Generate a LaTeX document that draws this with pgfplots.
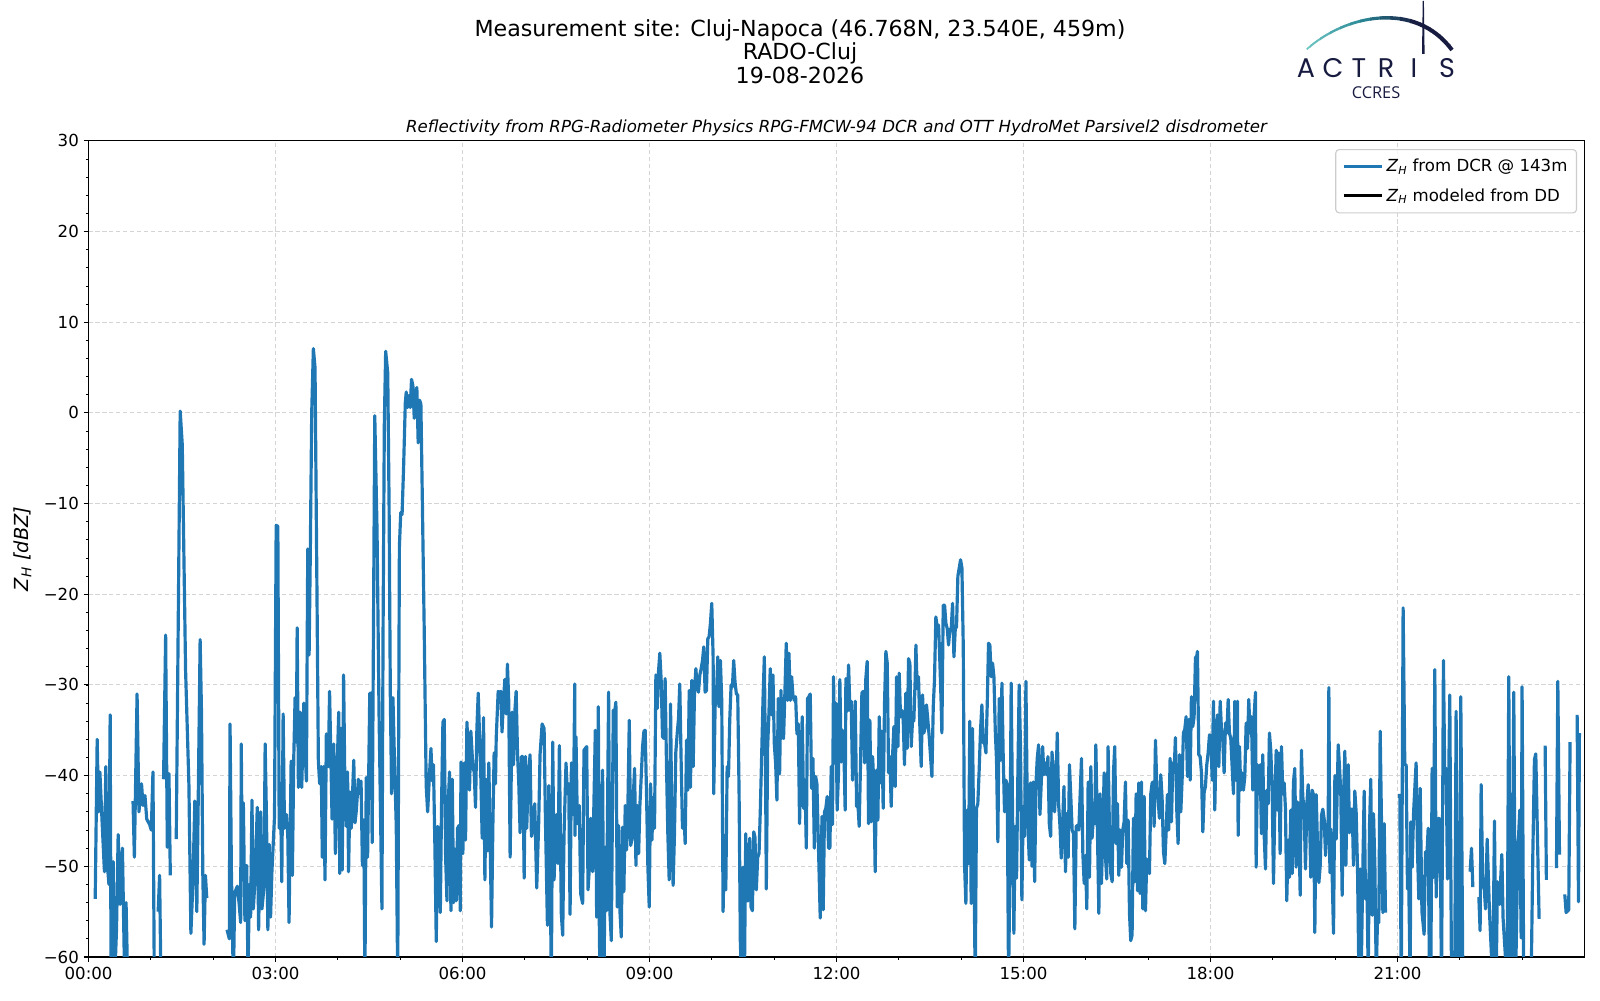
\documentclass[border=0pt]{standalone}
\usepackage{pgfplots}
\pgfplotsset{compat=1.18}
\usepackage{fontspec}
\setmainfont{DejaVu Sans}
\newfontfamily\poppins{Poppins}
\newfontfamily\opensans{Open Sans}
\definecolor{mplblue}{HTML}{1F77B4}
\definecolor{navy}{HTML}{181B40}
\definecolor{tealL}{HTML}{72C8C3}
\definecolor{tealM}{HTML}{2A8A98}
\newcommand{\ZH}{\textit{Z}\textsubscript{\textit{H}}}
\begin{document}
\begin{tikzpicture}
\path[use as bounding box] (0,0) rectangle (1156.3pt,722.7pt);
\begin{axis}[
  at={(64.0pt,31.1pt)}, anchor=south west, scale only axis,
  width=1081.1pt, height=589.8pt,
  xmin=0, xmax=1440, ymin=-60, ymax=30,
  xtick={0,180,...,1260},
  xticklabels={00:00,03:00,06:00,09:00,12:00,15:00,18:00,21:00},
  minor xtick={60,120,...,1380},
  ytick={-60,-50,...,30},
  yticklabels={−60,−50,−40,−30,−20,−10,0,10,20,30},
  minor ytick={-58,-56,...,28},
  xtick pos=left, ytick pos=left,
  tick align=outside, major tick length=3.5pt, minor tick length=2pt,
  tick style={black, line width=0.8pt}, minor tick style={line width=0.6pt},
  grid=major,
  major grid style={dash pattern=on 3pt off 2pt, line width=0.8pt, black!17},
  axis line style={line width=0.8pt},
  tick label style={font=\fontsize{12}{14.4}\selectfont},
  unbounded coords=jump,
  legend cell align=left,
  legend image code/.code={\draw[#1] (0pt,0pt) -- (28pt,0pt);},
  legend style={at={(1,1)}, anchor=north east, xshift=-5.4pt, yshift=-5.9pt,
    draw=black!20, line width=0.8pt, rounded corners=2.5pt, fill=white,
    fill opacity=0.8, text opacity=1, draw opacity=1,
    font=\fontsize{12}{14.4}\selectfont, inner xsep=4.5pt, inner ysep=5pt, row sep=6.5pt},
]
\addplot[mplblue, line width=2.3pt, line join=round, mark=none] coordinates {
(6.4,-53.6)(8.3,-36.0)(9.6,-44.0)(10.9,-39.6)(13,-45)(15.3,-50.6)(16.6,-39.0)(17.9,-49.5)(19.6,-52)(20.8,-33.3)(21.7,-63)(23.7,-49.5)(25.0,-63)(26.9,-57.0)(28.5,-46.5)(30.4,-54.2)(32.6,-48.0)(34.8,-63)(36.1,-54.0)(37.7,-63)(38.5,nan)
(42.8,-42.8)(44.1,-49.0)(46.7,-31.0)(48.5,-44)(51.0,-40.9)(52.4,-43.3)(54.3,-42.2)(56.0,-44.8)(58.8,-45.4)(60.4,-46)(62.0,-39.6)(63.3,-63)(64,nan)
(67.0,-55.0)(68.4,-51.0)(69.7,-63)(70.5,nan)
(72.2,-40.4)(74.2,-24.5)(75.8,-47.9)(77.4,-39.8)(78.7,-51.0)(80,nan)
(84.4,-47.0)(88.2,0.2)(90.2,-3.5)(93.4,-28.4)(96.6,-41.0)(98.5,-57.4)(100.4,-52.0)(102.3,-42.8)(104.2,-55.0)(105.5,-43.3)(107.4,-25.0)(108.7,-33.0)(110.0,-51.0)(111.2,-58.6)(112.5,-51.0)(113.8,-53.5)(120,nan)
(133.3,-57.0)(135.5,-58.0)(136.2,-34.3)(137.5,-50.6)(139.4,-63)(140.7,-52.9)(143.2,-52.2)(145,-54.2)(146.4,-56.2)(147.0,-36.5)(148,-51.5)(149.0,-43.0)(150.5,-56.0)(152.2,-49.9)(153.5,-62)(154.8,-52)(156,-55.6)(157.3,-42.7)(158.6,-54.7)(160.5,-51.0)(162.4,-43.5)(163.7,-57.0)(165.6,-44.0)(166.9,-54.7)(168.8,-52.4)(170.0,-36.5)(171.3,-45.0)(172.6,-57.0)(173.9,-47.6)(175.2,-55.6)(176.5,-50.6)(179.0,-44.5)(180.6,-12.4)(182.2,-12.5)(183.5,-45.8)(184.8,-42.4)(186.0,-51.7)(187.3,-33.2)(188.6,-45.8)(190.5,-44.3)(191.8,-46.7)(193.0,-56.2)(195.0,-38.4)(196.2,-51.0)(197.5,-38.2)(198.8,-31.4)(200.0,-36.3)(200.8,-23.7)(202.0,-41.3)(203.6,-33.0)(205.2,-41.3)(207.2,-32.0)(208.4,-37.0)(209.7,-40.6)(211.0,-15.0)(212.3,-26.7)(213.5,-15.0)(214.8,0)(216.4,7.1)(218.0,5.0)(220.0,-21.6)(221.2,-38.4)(222.5,-40.9)(224.0,-39.0)(225.0,-49.0)(226.3,-39.0)(227.6,-51.5)(228.9,-35.4)(230.8,-39.0)(232.0,-30.7)
(234.4,-44.8)(236.0,-36.5)(237.6,-48.6)(239.2,-39.6)(240.8,-33.0)(241.8,-50.8)(243,-34.8)(244.2,-50.4)(245.5,-28.9)(246.8,-41.8)(248.1,-45.6)(249.3,-39.6)(250.3,-50.6)(251.6,-41.8)(252.9,-45.8)(255.3,-38.3)(256.5,-45.2)(257.8,-43.8)(259.7,-40.4)(261,-42.0)(262.3,-40.6)(263.6,-49.9)(264.9,-44.9)(266.0,-63)(267.3,-40.2)(268.6,-49.0)(270.7,-30.9)(271.9,-30.9)(273.0,-47.4)(275.5,-0.3)(277.7,-13.0)(279.6,-33.0)(282.4,-54.7)(283.5,-23.9)(284.7,-1.3)(286.0,6.8)(288.0,4.4)(289.3,-10.3)(290.5,-31.4)(291.7,-42.0)(293.0,-31.4)(294.3,-37.5)(296.2,-45.6)(297.6,-63)(299.2,-14.8)(300.5,-11.0)(301.8,-11.2)(303.3,-5.8)(304.9,1.1)(305.8,2.3)(307.1,0.6)(308.4,1.9)(309.6,0.6)(310.9,3.7)(312.2,3.0)(313.5,-0.6)(314.7,2.1)(316.0,2.8)(317.3,-3.3)(318.6,1.4)(319.9,1.0)(321.1,-8.1)(323.1,-23.9)(325.0,-41.1)(326.4,-44.0)(328.3,-39.6)(329.6,-37.0)(330.8,-40.6)(332.0,-38.8)(333.4,-47.9)(334.7,-58.3)(336,-45.6)(337.3,-46.2)(338.6,-55.1)(339.8,-43.1)(341.1,-34.1)(342.4,-33.8)(343.7,-49.0)(345,-53.8)(346.2,-43.1)(347.5,-39.6)(348.8,-54.9)(350.1,-40.4)(351.4,-54.0)(352.7,-48.1)(354,-53.8)(355.2,-45.8)(356.5,-45.5)(357.8,-54.9)(358.5,-38.5)(360.3,-48.6)(361.6,-38.6)(362.9,-47.1)(364.2,-34.1)(365.5,-37.5)(366.7,-41.6)(368,-35.1)(369.9,-39.0)(371.2,-39.6)(372.5,-43.5)(373.8,-34.8)(375.1,-30.9)(376.4,-35.7)(377.6,-40.2)(378.9,-46.9)(380.2,-33.6)(381.5,-51.5)(382.7,-40.4)(384,-48.3)(385.3,-38.6)(386.6,-47.5)(387.9,-56.7)(389.2,-45.4)(390.4,-37.5)(391.7,-40.9)(392.4,-35.9)(394.3,-30.7)(395.6,-30.9)(396.8,-30.7)(398.0,-35.2)(399.4,-31.7)(400.7,-29.4)(402.0,-33.2)(403.2,-27.7)(404.5,-31.9)(405.8,-49.0)(407.7,-33.0)(409.1,-38.8)(410.3,-33.0)(411.6,-30.7)(412.9,-37.5)(414.2,-41.1)(415.4,-46.3)(416.7,-37.9)(418,-37.9)(419.3,-51.3)(420.6,-37.9)(421.8,-45.8)(423.1,-40.4)(425,-37.7)(426.3,-46.7)(428.2,-45.6)(429.5,-43.1)(431.4,-52.4)(433.3,-45.2)(434.6,-37.7)(436.6,-34.3)(438.5,-34.8)(439.8,-44.9)(441.7,-56.5)(443,-41.1)(444.2,-49.2)(445.5,-63)(446.8,-36.3)(448.1,-51.5)(449.4,-47.1)(450.6,-44.3)(451.9,-49.7)(453.2,-36.7)(455.1,-55.3)(456.4,-57.6)(457.7,-46.5)(459.6,-38.6)(460.9,-42.0)(462.2,-40.9)(463.5,-55.3)(464.8,-38.6)(466.7,-44.3)(468.0,-29.9)
(468.3,-46.6)(469.2,-35.7)(470.5,-45.3)(472.4,-43.3)(473.7,-53)(475.6,-54.1)(476.9,-37.2)(479.5,-36.8)(480.8,-52.6)(482,-50.3)(483.3,-44.7)(485.2,-50.6)(487.8,-35)(489.1,-55.6)(490.7,-32.4)(491.6,-55.8)(492.3,-63)(493.5,-47.9)(494.8,-39.4)(496.1,-63)(497.4,-47.9)(498.7,-54.9)(500.6,-30.8)(501.9,-55.2)(503.2,-58.2)(505.1,-32.8)(506.4,-33)(507.6,-31.9)(508.9,-54.5)(510.2,-45.5)(511.5,-54.9)(512.8,-57.8)(514,-45.7)(515.3,-52.8)(516.6,-43.3)(517.9,-48.2)(519.2,-43.1)(520.5,-33.9)(521.8,-47.7)(523,-47.1)(524.3,-42.4)(525.6,-39.2)(526.9,-49.9)(528.2,-43.3)(529.5,-48.6)(530.7,-43.3)(532,-40.1)(533.3,-36.8)(534.6,-35.1)(535.8,-35)(537.1,-42)(538.4,-50.1)(539.7,-54.5)(541,-40.9)(542.3,-47.1)(543.5,-42.4)(544.8,-45.8)(546.1,-28.9)(547.4,-32.6)(548.7,-28.4)(549.9,-26.5)(551.2,-29.5)(552.5,-35.7)(553.8,-35.9)(555,-29.3)(556.3,-38.7)(557.6,-46.4)(558.9,-51.5)(560.2,-32.1)(561.5,-45.7)(562.7,-52.1)(564,-46.4)(565.3,-37.4)(566.6,-35.4)(567.9,-33.7)(569.1,-29.9)(570.4,-38.3)(571.7,-45.8)(573,-43.8)(574.3,-47.5)(575.6,-36.1)(576.9,-41.6)(578.2,-30.6)(579.4,-41.3)(580.7,-29.5)(582,-39)(583.3,-30.6)(584.6,-28.2)(585.8,-30.2)(587.1,-30.8)(588.4,-28.9)(589.7,-28.2)(591,-27.3)(592.2,-25.8)(593.5,-30.8)(594.8,-30.6)(596.1,-24.9)(597.3,-24.7)(598.6,-23.2)(599.9,-21)(601.2,-26.9)(601.8,-42)(603.1,-32.4)(604.4,-31.3)(605.7,-26.9)(606.9,-32.4)(608.2,-27.3)(609.5,-31.7)(610.8,-55)(612.1,-46.6)(613.4,-52.6)(614.7,-39)(616,-40.1)(617.2,-33.9)(618.5,-30)(619.8,-30.2)(621,-27.3)(622.3,-29.7)(623.6,-31)(624.9,-31.1)(626.2,-42)(627.4,-58.3)(628.7,-63)(630,-50.1)(631.3,-63)(632.6,-46.4)(633.8,-53.8)(635.1,-53.8)(636.4,-46.9)(637.7,-54.5)(639,-54.9)(640.3,-46.2)(641.5,-46.8)(642.8,-52.6)(644.1,-49)(645.4,-48.6)(646.7,-43.5)(647.9,-37.9)(649.2,-31.7)(650.5,-26.9)(651.8,-41.6)(652.4,-52.5)(653.7,-36.8)(654.9,-33.2)(656.2,-28.2)(657.5,-33.3)(658.8,-28.9)(660.1,-36.5)(661.4,-38.7)(662.6,-42.7)(663.9,-31.5)(665.2,-39.8)(666.5,-30.6)(667.8,-35.7)(669,-35.9)(670.3,-30.8)(671.6,-25.4)(672.9,-31.7)(674.2,-26.5)(675.5,-31.7)(676.8,-29.1)(678,-31.1)(679.3,-31.7)(680.6,-31.3)(681.9,-35.4)(683.2,-34.3)(684.4,-45.3)(685.7,-38.3)(687,-33.5)(688.3,-43.6)(689.6,-40.5)(690.9,-48)(692.1,-31.5)(693.4,-31.3)(694.7,-31)(696,-41.4)(697.3,-38.1)(698.6,-48)(699.9,-40.1)(701.1,-40.9)
(704.3,-55.7)(706,-44.5)(707.2,-54.8)(708.4,-44)(709.7,-43.6)(711,-42.3)(712.3,-48)(713.6,-48)(714.9,-39)(716.1,-45.4)(717.1,-29.1)(718.4,-38.6)(719.4,-32)(720.6,-43.8)(721.9,-39.7)(723.2,-29.4)(724.5,-38.5)(725.8,-35)(727,-36.8)(728.3,-43.8)(729,-29.3)(730.3,-32.9)(731.6,-27.8)(732.9,-32.8)(734.1,-31.8)(735.4,-40.5)(736.7,-35)(738,-31.8)(739.3,-43.4)(740.6,-43.1)(741.8,-45.6)(743.1,-38.6)(744.4,-30.9)(745.7,-30.7)(747,-38.6)(748.2,-29.3)(749.5,-27.4)(750.8,-45.3)(752.1,-33.9)(753.4,-45.1)(754.7,-37.9)(755.9,-40.8)(757.2,-50.6)(758.5,-39.4)(759.8,-44.9)(761.1,-33.5)(762.4,-40.8)(763.6,-35.1)(764.9,-43.6)(766.2,-32)(767.5,-26.3)(768.8,-27.6)(770.1,-39.7)(771.4,-37.9)(772.6,-43.4)(773.9,-37.9)(775.2,-34.6)(776.5,-41.2)(777.8,-29.1)(779.1,-36.8)(780.3,-28.7)(781.6,-33.5)(782.9,-32.8)(784.2,-33.9)(785.4,-38.8)(786.7,-30.9)(788,-37)(789.3,-27.1)(790.6,-27.6)(791.9,-36.8)(793.1,-34)(794.4,-34)(795.7,-29.4)(796.4,-25.6)(797.6,-30.4)(798.9,-29.1)(800.2,-34.6)(801.5,-39)(802.8,-31.1)(804.1,-35.3)(805.4,-34.6)(806.6,-32.2)(807.9,-33.9)(809.2,-35.7)(810.5,-37.9)(811.8,-40.1)(813.1,-32.4)(814.3,-29.4)(815.6,-22.5)(816.9,-23.6)(818.2,-23.4)(819.5,-27.6)(820.7,-32)(821.4,-35.3)(822.7,-21.2)(824,-21.2)(825.3,-23.2)(826.6,-23.8)(827.8,-25.6)(829.1,-23.9)(830.4,-23.8)(831.7,-21)(833,-26.9)(834.3,-23.8)(835.5,-23.6)(836.8,-18)(838.1,-17.1)(839.4,-16.2)(840.7,-17.1)(842,-25.8)(843.2,-49.7)(844.5,-54.1)(845.8,-43.8)(847.1,-49.7)(848.3,-34)(849.6,-54.1)(850.9,-34.8)(852.2,-48.9)(853.5,-63)(854.7,-43.6)(856,-43.1)(857.3,-39.4)(858.6,-35)(859.9,-32.2)(861.2,-36.4)(862.5,-36.4)(863.8,-37.5)(865.1,-32)(866.3,-25.4)(867.6,-25.6)(868.9,-29.1)(870.2,-27.6)(871.5,-29.1)(872.8,-35)(874,-38.3)(875.3,-47.3)(876.6,-31.5)(877.9,-38.3)(879.2,-29.8)(880.5,-38.3)(881.7,-44)(883,-40.5)(884.3,-41)(885.6,-63)(886.9,-49.7)(888.1,-29.8)(889.4,-43.8)(890.7,-57.4)(892,-45.6)(893.3,-51.3)(894.6,-39.4)(895.8,-30)(897.1,-36.8)(898.4,-53.7)(899.7,-43.4)(901,-46.7)(902.3,-29.6)(903.6,-43.4)(905.5,-49.3)(906.8,-40.8)(908.1,-50)(909.4,-40.7)(910.7,-51.7)(912,-40.8)(913.2,-38.1)(914.5,-36.6)(915.8,-44.3)(917.1,-40.7)(918.4,-36.8)(919.6,-39.9)(920.9,-38.6)(922.2,-39.9)(923.5,-37.9)(924.8,-45.3)(926.1,-46.7)(927.4,-37.4)(928.6,-39.2)(929.9,-44)(931.2,-41)(932.5,-35.3)(933.8,-43.2)(935.1,-45.6)(936.3,-49.1)(937.6,-45.3)(938.9,-41.2)
(940.4,-50.6)(941.7,-44.2)(943.0,-49)(944.2,-38.8)(945.5,-42.3)(946.8,-46)(948.1,-46.4)(949.4,-56.9)(950.7,-45.6)(951.9,-45.5)(953.2,-46)(954.5,-42.1)(955.8,-38.1)(957.1,-48.6)(958.4,-51.9)(959.6,-48.8)(960.9,-54.7)(962.2,-40.7)(963.5,-51.2)(964.8,-39)(966,-46.9)(967.3,-44.4)(968.6,-45.3)(969.6,-36.6)(971.2,-46.6)(972.5,-55.2)(973.7,-42)(975,-51.9)(976.3,-46.4)(977.6,-39.7)(978.9,-49)(980.1,-51.4)(981.4,-36.8)(982.7,-46)(984,-50.8)(985.3,-51.7)(986.6,-39.6)(987.8,-36.8)(989.1,-47.5)(990.4,-43.1)(991.7,-51)(993,-46)(994.3,-50.1)(995.5,-46)(996.8,-45.1)(998.1,-40.7)(999.4,-49.7)(1000.7,-44.9)(1002,-55.2)(1003.2,-58.2)(1004.5,-57.6)(1005.8,-44.7)(1007.1,-51.7)(1008.4,-42)(1009.7,-52.7)(1010.9,-40.8)(1012.2,-53)(1013.5,-40.7)(1014.8,-54.7)(1016.1,-42.3)(1017.4,-54.9)(1018.6,-49.2)(1019.9,-50.4)(1021.2,-50.8)(1022.5,-42)(1023.8,-40.8)(1025.1,-40.7)(1025.7,-45.6)(1027,-36.1)(1028.3,-41.2)(1029.6,-42.7)(1030.8,-44.7)(1032.1,-39.9)(1033.4,-42.5)(1034.7,-48.4)(1036,-49.7)(1037.3,-46.2)(1038.5,-42.1)(1039.8,-46)(1041.1,-38.1)(1042.4,-45.1)(1043.7,-38.6)(1045,-39.4)(1046.2,-35.8)(1047.5,-43.8)(1048.8,-47.5)(1050.1,-37.7)(1051.4,-44)(1052.7,-40.3)(1053.9,-35.3)(1055.2,-34.9)(1056.5,-33.5)(1057.8,-40.1)(1059.1,-33.8)(1060.4,-40.5)(1061.6,-31.3)(1062.9,-34.6)(1064.2,-33.5)(1065.5,-27)(1066.8,-26.8)(1067.4,-26.3)(1068.7,-37.7)(1070,-37.9)(1071.3,-39.7)(1072.6,-46.2)(1073.9,-41.8)(1075.1,-41.2)(1076.4,-38.8)(1077.7,-37.5)(1079,-35.5)(1080.3,-35.7)(1081.6,-40.5)(1082.8,-31.8)(1084.1,-43.8)(1085.4,-36.1)(1086.7,-33.3)(1088,-39)(1089.3,-31.8)(1090.5,-34.8)(1091.8,-36.1)(1093.1,-39.7)(1094.4,-34.2)(1095.7,-35.3)(1097,-31.6)(1098.2,-35.3)(1099.5,-35.9)(1100.8,-39)(1102.1,-42)(1103.4,-31.8)(1104.7,-40.5)(1105.9,-31.8)(1106.6,-46.6)(1107.9,-36.8)(1109.1,-41.6)(1110.4,-39.7)(1111.7,-41.6)(1113,-40.1)(1114.3,-34.2)(1115.6,-37)(1116.8,-31.6)(1118.1,-35.3)(1119.4,-33.5)(1120.7,-41.6)(1122,-33.3)(1123.3,-30.8)(1123.9,-50.1)(1125.2,-38.8)(1126.5,-42)(1127.8,-38.8)(1129,-46.4)(1130.3,-37.7)(1131.6,-46.4)(1132.9,-50.3)(1134.2,-41.6)(1135.5,-43.1)(1136.7,-35.3)(1138,-37.2)(1139.3,-41.2)(1140.6,-51.9)(1141.9,-43.4)(1143.2,-37.2)(1144.4,-43.8)(1145.7,-37.5)(1147,-48.6)(1148.3,-36.8)(1149.6,-42)(1150.9,-40.8)(1152.1,-43.6)(1153.4,-53.8)(1154.7,-47.1)(1156,-51.2)(1157.3,-43.8)(1158.6,-50.8)(1159.8,-40.8)(1161.1,-39.2)(1162.4,-50.1)(1163.7,-42.9)(1165,-44.9)(1166.3,-53.2)(1167.5,-37.2)(1168.8,-42.3)(1170.1,-43.8)(1171.4,-50.3)(1172.7,-43.1)(1174,-41)(1175.2,-43.8)(1176.5,-51.2)(1177.8,-41.6)(1179.1,-42.1)
(1180.4,-57.3)(1181.7,-42.1)(1183.0,-47.7)(1184.3,-51.8)(1185.6,-49.9)(1186.8,-44.4)(1188.1,-43.7)(1189.4,-44.8)(1190.7,-48.8)(1192.0,-46.3)(1193.3,-44.8)(1193.9,-30.3)(1194.9,-50.7)(1195.8,-45.9)(1197.1,-51)(1198.4,-57.4)(1199.7,-40)(1201.0,-47)(1202.2,-40.4)(1202.9,-36.6)(1204.2,-39.1)(1205.4,-41.9)(1206.7,-53.2)(1208.0,-42.6)(1209.3,-37.3)(1210.3,-49.9)(1211.2,-43.7)(1212.5,-38.8)(1213.8,-46.3)(1215.1,-43.7)(1216.4,-43.7)(1217.6,-49.9)(1218.9,-41.7)(1220.2,-44.1)(1221.5,-50.3)(1222.8,-62)(1224.1,-50.3)(1225.3,-60)(1226.6,-50.3)(1227.9,-41.7)(1229.2,-53.6)(1230.5,-51.6)(1231.8,-62)(1233.0,-45.7)(1234.3,-40.4)(1235.0,-49.9)(1235.6,-55.4)(1236.9,-44.2)(1238.2,-49.9)(1239.5,-62)(1240.7,-56)(1242.0,-56.2)(1243.3,-35.1)(1244.6,-45.3)(1245.9,-55.1)(1247.2,-45.3)(1248.4,-55.1)(1249,nan)
(1262.2,-42)(1263.6,-63)(1265.4,-21.5)(1267.0,-38.8)(1268.3,-38.8)(1269.6,-52.5)(1270.9,-52.5)(1272.2,-63)(1272.8,-45.1)(1274.1,-50.1)(1275.5,-44)(1277.9,-38.6)(1279.2,-48.2)(1280.5,-53.6)(1281.8,-41.4)(1283.5,-55)(1285.6,-57.5)(1286.9,-48.4)(1288.2,-49)(1289.5,-45.8)(1290.8,-63)(1292.0,-63)(1293.3,-39.2)(1294.6,-51.2)(1295.9,-28.3)(1297.2,-53.4)(1298.5,-48.6)(1299.7,-44.7)(1301.0,-44.9)(1302.3,-63)(1303.6,-40.5)(1304.2,-27.3)(1305.5,-40.5)(1306.8,-39.2)(1308.1,-51.4)(1309.4,-39.2)(1310.3,-31.1)(1312.0,-63)(1315,-63)(1316.4,-32.9)(1317.7,-63)(1319.6,-63)(1320.9,-31.3)(1322.9,-63)(1323.5,nan)
(1329.9,-50.6)(1331.2,-48)(1332.5,-52.3)(1333,nan)
(1338.3,-53.4)(1339.5,-57.1)(1340.5,-41)(1342.1,-52.3)(1343.4,-52.3)(1344.7,-54.7)(1346.3,-47)(1348.5,-55)(1351.7,-63)(1353.3,-45)(1354.9,-63)(1356.2,-51.7)(1358.2,-54.2)(1360.4,-48.7)(1361.6,-55.7)(1365.5,-63)(1367.1,-29.1)(1368.7,-63)(1370.0,-63)(1371.9,-30.8)(1373.6,-63)(1375.8,-48.4)(1377.7,-43.8)(1379.0,-57.9)(1379.9,-30.2)(1381.5,-63)(1382,nan)
(1388.6,-63)(1390.2,-49)(1391.8,-38.2)(1393.1,-37.6)(1396.3,-55.8)(1397,nan)
(1402.1,-36.7)(1403.3,-51.5)(1404,nan)
(1413.0,-50.2)(1414.3,-29.6)(1415.9,-48.7)(1416.5,nan)
(1421.0,-53.1)(1422.3,-55.1)(1424.8,-54.8)(1426.1,-36.3)(1427,nan)
(1432.9,-33.3)(1434.2,-53.9)(1435.1,-35.3)
};
\addlegendentry{\ZH{} from DCR @ 143m}
\addlegendimage{black, line width=2.3pt}
\addlegendentry{\ZH{} modeled from DD}
\end{axis}
\begin{scope}[x=0.72269pt, y=-0.72269pt, shift={(0pt,722.7pt)}]
\node[anchor=base, inner sep=0pt, font=\fontsize{16}{19}\selectfont] at (800,36.7) {Measurement site: Cluj-Napoca (46.768N, 23.540E, 459m)};
\node[anchor=base, inner sep=0pt, font=\fontsize{16}{19}\selectfont] at (800,59.6) {RADO-Cluj};
\node[anchor=base, inner sep=0pt, font=\fontsize{16}{19}\selectfont] at (800,83.1) {19-08-2026};
\node[anchor=base, inner sep=0pt, font=\itshape\fontsize{12}{14}\selectfont] at (836.5,132.5) {Reflectivity from RPG-Radiometer Physics RPG-FMCW-94 DCR and OTT HydroMet Parsivel2 disdrometer};
\node[rotate=90, inner sep=0pt, font=\fontsize{14}{16}\selectfont] at (22.5,549) {\ZH{} \textit{[dBZ]}};
% logo
\foreach \i in {0,...,15} {
  \pgfmathsetmacro\xa{1300+\i*10}
  \pgfmathsetmacro\xb{\xa+10.6}
  \pgfmathsetmacro\tt{max(0,min(1,(\xa+5-1306)/110))}
  \pgfmathsetmacro\pa{min(100,\tt*200)}
  \pgfmathsetmacro\pb{max(0,\tt*200-100)}
  \pgfmathsetmacro\lw{1.3+1.6*\tt}
  \colorlet{arcA}{tealM!\pa!tealL}
  \colorlet{arcc}{navy!\pb!arcA}
  \begin{scope}
    \clip (\xa,-5) rectangle (\xb,70);
    \draw[arcc, line width=\lw pt] (1306.7,49.3) .. controls (1345,15) and (1415,0) .. (1452,50);
  \end{scope}
}
\fill[navy] (1422.0,54) -- (1424.6,54) -- (1423.9,1) -- (1422.7,1) -- cycle;
\foreach \l/\x in {A/1306,C/1333,T/1359,R/1386,I/1414,S/1447}
  \node[anchor=base, inner sep=0pt, text=navy, font=\poppins\fontsize{19.5}{20}\selectfont] at (\x,77.2) {\l};
\node[anchor=base, inner sep=0pt, text=navy, font=\opensans\fontsize{11.8}{13}\selectfont] at (1376,99) {CCRES};
\end{scope}
\end{tikzpicture}
\end{document}
